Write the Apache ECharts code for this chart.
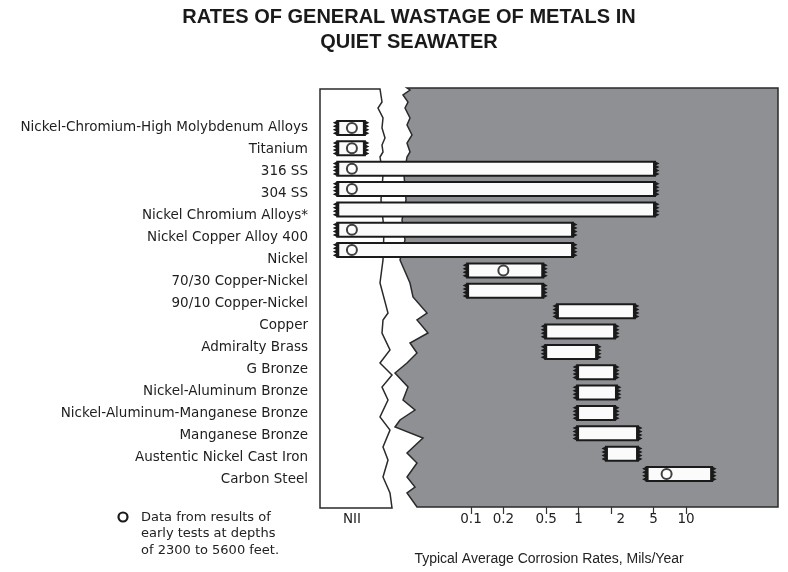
<!DOCTYPE html>
<html><head><meta charset="utf-8">
<script src="https://cdn.jsdelivr.net/npm/echarts@6/dist/echarts.min.js"></script>
<style>html,body{margin:0;padding:0;background:#fff}#c{width:788px;height:572px}</style>
</head><body><div id="c"></div>
<script>
const titleText = 'RATES OF GENERAL WASTAGE OF METALS IN\nQUIET SEAWATER';
const axisTitle = 'Typical Average Corrosion Rates, Mils/Year';
const noteText = 'Data from results of\nearly tests at depths\nof 2300 to 5600 feet.';

// Label column (17 materials)
const categories = [
  'Nickel-Chromium-High Molybdenum Alloys', 'Titanium', '316 SS', '304 SS',
  'Nickel Chromium Alloys*', 'Nickel Copper Alloy 400', 'Nickel',
  '70/30 Copper-Nickel', '90/10 Copper-Nickel', 'Copper', 'Admiralty Brass',
  'G Bronze', 'Nickel-Aluminum Bronze', 'Nickel-Aluminum-Manganese Bronze',
  'Manganese Bronze', 'Austentic Nickel Cast Iron', 'Carbon Steel'
];

// Bars (18 rows; 70/30 Copper-Nickel has two ranges)
const barMaterial = [
  'Nickel-Chromium-High Molybdenum Alloys', 'Titanium', '316 SS', '304 SS',
  'Nickel Chromium Alloys*', 'Nickel Copper Alloy 400', 'Nickel',
  '70/30 Copper-Nickel', '70/30 Copper-Nickel', '90/10 Copper-Nickel', 'Copper',
  'Admiralty Brass', 'G Bronze', 'Nickel-Aluminum Bronze',
  'Nickel-Aluminum-Manganese Bronze', 'Manganese Bronze',
  'Austentic Nickel Cast Iron', 'Carbon Steel'
];
const barLow  = [0.0057, 0.0057, 0.0057, 0.0057, 0.0057, 0.0057, 0.0057, 0.092, 0.092, 0.63, 0.49, 0.49, 0.97, 0.97, 0.97, 0.97, 1.8, 4.3];
const barHigh = [0.0103, 0.0103, 5.15, 5.15, 5.15, 0.89, 0.89, 0.47, 0.47, 3.35, 2.19, 1.49, 2.19, 2.28, 2.19, 3.58, 3.58, 17.5];

// Open circles: deep-sea test results (bar row index, value)
const circleBar   = [0, 1, 2, 3, 5, 6, 7, 17];
const circleValue = [0.0078, 0.0078, 0.0078, 0.0078, 0.0078, 0.0078, 0.2, 6.6];

// Axis ticks
const tickValues = [0.1, 0.2, 0.5, 1, 2, 5, 10];
const tickLabels = ['0.1', '0.2', '0.5', '1', '2', '5', '10'];
const nilValue = 0.0078;
const nilLabel = 'NII';

const chart = echarts.init(document.getElementById('c'), null, {renderer: 'canvas'});
const FONT = '"Liberation Sans", Arial, Helvetica, sans-serif';
const WFONT = '"DejaVu Sans", "Liberation Sans", sans-serif';

// decorative break edges (pixel layout)
const whiteEdge = [[380,89],[382,102],[378,108],[383,118],[382,128],[385,138],[382,145],[383,152],[380,157],[383,175],[381,200],[384,230],[383,260],[380,283],[388,313],[383,320],[382,333],[390,350],[380,363],[392,375],[382,387],[388,400],[380,417],[390,430],[383,447],[388,460],[383,477],[390,493],[392,508]];
const grayEdge = [[417,507],[407,493],[415,487],[407,477],[417,463],[407,453],[423,438],[395,427],[400,420],[415,410],[403,400],[408,387],[395,373],[407,363],[417,353],[410,343],[428,333],[417,320],[427,313],[413,297],[410,283],[400,260],[405,240],[402,220],[406,200],[404,175],[407,157],[410,152],[407,143],[412,135],[407,125],[410,118],[405,108],[408,102],[403,95],[410,90],[407,88]];

const whitePanel = [[320,89]].concat(whiteEdge).concat([[320,508]]);
const grayPanel = [[778,88],[778,507]].concat(grayEdge);

function cap(x, yTop, h, dir) {
  const pts = [[x - dir * 2, yTop]];
  const n = 4;
  for (let k = 0; k <= n * 2; k++) {
    const yy = yTop + h * k / (n * 2);
    const out = (k % 2 === 0) ? 1 : 4.5;
    pts.push([x + dir * out, yy]);
  }
  pts.push([x - dir * 2, yTop + h]);
  return {type: 'polygon', shape: {points: pts}, style: {fill: '#1a1a1a'}};
}

const option = {
  backgroundColor: '#ffffff',
  animation: false,
  title: {
    text: titleText,
    left: 404, top: 0, textAlign: 'center',
    textStyle: {fontFamily: FONT, fontSize: 20, fontWeight: 'bold', color: '#1a1a1a', lineHeight: 25}
  },
  grid: [
    {left: 320, right: 10, top: 117.8, bottom: 87.8},
    {left: 320, right: 10, top: 117, bottom: 82}
  ],
  xAxis: [
    {
      type: 'log', gridIndex: 0, logBase: 10, min: 0.003938, max: 71.76,
      offset: 22.8,
      axisLine: {show: false},
      splitLine: {show: false},
      axisTick: {show: true, customValues: tickValues, length: 7, lineStyle: {color: '#333', width: 1.2}},
      axisLabel: {
        customValues: [nilValue].concat(tickValues),
        margin: 5, fontFamily: WFONT, fontSize: 13.5, color: '#222',
        formatter: function (v) {
          if (Math.abs(v - nilValue) < 1e-6) return nilLabel;
          for (let i = 0; i < tickValues.length; i++) {
            if (Math.abs(v - tickValues[i]) < 1e-9 * Math.max(1, v)) {
              return tickValues[i] === 2 ? '{s|' + tickLabels[i] + '}' : tickLabels[i];
            }
          }
          return '';
        },
        rich: {s: {padding: [0, 0, 0, 20], fontFamily: WFONT, fontSize: 13.5, color: '#222'}}
      },
      name: axisTitle, nameLocation: 'middle', nameGap: 45,
      nameTextStyle: {fontFamily: FONT, fontSize: 14, color: '#222'}
    },
    {type: 'value', gridIndex: 1, show: false}
  ],
  yAxis: [
    {type: 'category', gridIndex: 0, data: barMaterial, inverse: true, show: false},
    {
      type: 'category', gridIndex: 1, data: categories, inverse: true,
      axisLine: {show: false}, axisTick: {show: false},
      axisLabel: {margin: 12, fontFamily: WFONT, fontSize: 13.5, color: '#1e1e1e'}
    }
  ],
  graphic: [
    {type: 'polygon', z: -10, shape: {points: grayPanel}, style: {fill: '#8e9093', stroke: '#2a2a2a', lineWidth: 1.5}},
    {type: 'polygon', z: -10, shape: {points: whitePanel}, style: {fill: '#ffffff', stroke: '#2a2a2a', lineWidth: 1.5}},
    {type: 'circle', shape: {cx: 123, cy: 517, r: 4.5}, style: {fill: '#fff', stroke: '#1a1a1a', lineWidth: 2.2}},
    {type: 'text', x: 141, y: 509, style: {text: noteText, fontFamily: WFONT, fontSize: 13, lineHeight: 16.5, fill: '#222'}}
  ],
  series: [
    {
      name: 'Corrosion rate range',
      type: 'custom', xAxisIndex: 0, yAxisIndex: 0,
      data: barLow.map((lo, i) => [lo, barHigh[i], i]),
      encode: {x: [0, 1], y: 2},
      renderItem: function (params, api) {
        const a = api.coord([api.value(0), api.value(2)]);
        const b = api.coord([api.value(1), api.value(2)]);
        const h = 14;
        const top = a[1] - h / 2;
        return {
          type: 'group',
          children: [
            {type: 'rect', shape: {x: a[0], y: top, width: b[0] - a[0], height: h},
             style: {fill: '#fbfbfb', stroke: '#1a1a1a', lineWidth: 2}},
            cap(a[0], top, h, -1),
            cap(b[0], top, h, 1)
          ]
        };
      },
      z: 3
    },
    {
      name: 'Data from results of early tests at depths of 2300 to 5600 feet',
      type: 'scatter', xAxisIndex: 0, yAxisIndex: 0,
      data: circleValue.map((v, i) => [v, circleBar[i]]),
      symbol: 'circle', symbolSize: 10,
      itemStyle: {color: '#ffffff', borderColor: '#111', borderWidth: 2},
      z: 5
    }
  ]
};
chart.setOption(option);
</script></body></html>
